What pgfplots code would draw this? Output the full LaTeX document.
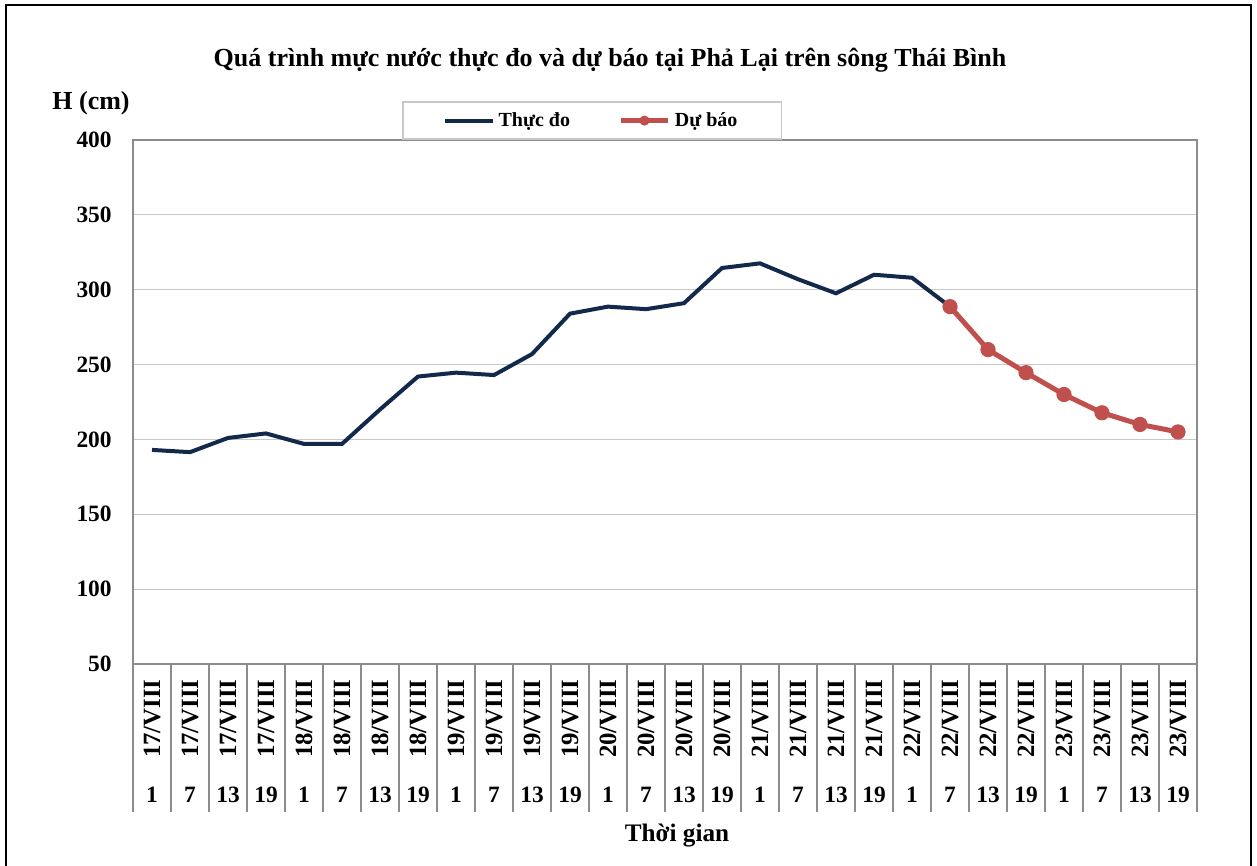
\documentclass[border=0pt]{standalone}
\usepackage{pgfplots}
\pgfplotsset{compat=1.18}
\usepackage{fontspec}
\setmainfont{Liberation Serif}
\definecolor{navy}{HTML}{13294B}
\definecolor{fred}{HTML}{C0504D}
\definecolor{gridc}{HTML}{C8C8C8}
\definecolor{axc}{HTML}{8C8C8C}
\begin{document}
\begin{tikzpicture}
\useasboundingbox (0,0) rectangle (628.5pt,433pt);
\draw[black, line width=1.2pt] (3pt,0pt) -- (3pt,430.5pt) -- (625.5pt,430.5pt) -- (625.5pt,0pt);
\node[font=\bfseries\fontsize{13}{15}\selectfont] at (305pt,403pt) {Quá trình mực nước thực đo và dự báo tại Phả Lại trên sông Thái Bình};
\node[font=\bfseries\fontsize{13}{15}\selectfont] at (45.5pt,381.5pt) {H (cm)};
\node[font=\bfseries\fontsize{12.6}{14}\selectfont] at (338.5pt,15pt) {Thời gian};
\begin{axis}[
  at={(66.5pt,101pt)}, anchor=south west,
  width=532pt, height=262pt, scale only axis,
  xmin=-0.5, xmax=27.5, ymin=50, ymax=400,
  ytick={50,100,...,400},
  ymajorgrids, grid style={gridc, line width=0.6pt},
  axis line style={axc, line width=0.7pt},
  xtick={0,...,27},
  xticklabels={\rotatebox{90}{17/VIII},\rotatebox{90}{17/VIII},\rotatebox{90}{17/VIII},\rotatebox{90}{17/VIII},
    \rotatebox{90}{18/VIII},\rotatebox{90}{18/VIII},\rotatebox{90}{18/VIII},\rotatebox{90}{18/VIII},
    \rotatebox{90}{19/VIII},\rotatebox{90}{19/VIII},\rotatebox{90}{19/VIII},\rotatebox{90}{19/VIII},
    \rotatebox{90}{20/VIII},\rotatebox{90}{20/VIII},\rotatebox{90}{20/VIII},\rotatebox{90}{20/VIII},
    \rotatebox{90}{21/VIII},\rotatebox{90}{21/VIII},\rotatebox{90}{21/VIII},\rotatebox{90}{21/VIII},
    \rotatebox{90}{22/VIII},\rotatebox{90}{22/VIII},\rotatebox{90}{22/VIII},\rotatebox{90}{22/VIII},
    \rotatebox{90}{23/VIII},\rotatebox{90}{23/VIII},\rotatebox{90}{23/VIII},\rotatebox{90}{23/VIII}},
  minor xtick={-0.5,0.5,...,27.5},
  xtick pos=lower,
  tick align=outside,
  major tick length=0pt,
  minor tick length=74pt,
  minor tick style={axc, line width=0.7pt},
  ytick style={draw=none},
  xticklabel style={anchor=north, inner sep=0pt, yshift=-7.5pt, font=\bfseries\fontsize{12.4}{14}\selectfont},
  yticklabel style={anchor=east, inner sep=0pt, xshift=-10.5pt},
  ticklabel style={font=\bfseries\fontsize{11.7}{13}\selectfont},
  /pgf/number format/assume math mode=true,
  extra x ticks={0,...,27},
  extra x tick labels={1,7,13,19,1,7,13,19,1,7,13,19,1,7,13,19,1,7,13,19,1,7,13,19,1,7,13,19},
  extra x tick style={xticklabel style={anchor=center, yshift=-58pt, font=\bfseries\fontsize{11.7}{13}\selectfont}},
  legend columns=2,
  legend style={at={(0.4315,1.037)}, anchor=center, draw=gridc, line width=0.7pt,
    font=\bfseries\fontsize{10}{12}\selectfont, inner xsep=20pt, inner ysep=3pt,
    /tikz/every even column/.append style={column sep=22pt},
    legend cell align=left},
  legend image code/.code={\draw[mark repeat=2,mark phase=2, mark size=2pt] plot coordinates {(0cm,0cm) (0.42cm,0cm) (0.84cm,0cm)};},
  clip=false,
]
\addplot[navy, line width=2pt, mark=none] coordinates {
(0,193) (1,191.5) (2,201) (3,204) (4,197) (5,197) (6,220) (7,242) (8,244.6) (9,243)
(10,257) (11,284) (12,288.7) (13,287) (14,291) (15,314.5) (16,317.6) (17,307) (18,297.6)
(19,310) (20,308) (21,288.7)};
\addlegendentry{Thực đo}
\addplot[fred, line width=2.5pt, mark=*, mark size=3.3pt, mark options={fill=fred, draw=fred, line width=1pt}] coordinates {
(21,288.7) (22,260) (23,244.6) (24,230) (25,217.8) (26,210) (27,205)};
\addlegendentry{Dự báo}
\end{axis}
\end{tikzpicture}
\end{document}
